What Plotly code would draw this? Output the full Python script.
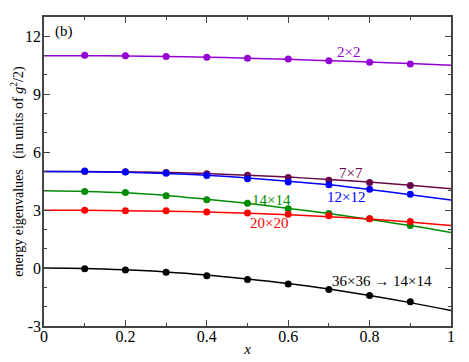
import plotly.graph_objects as go

# ---- data ----
x_line = [0.0, 0.1, 0.2, 0.3, 0.4, 0.5, 0.6, 0.7, 0.8, 0.9, 1.0]
x_pts = [0.1, 0.2, 0.3, 0.4, 0.5, 0.6, 0.7, 0.8, 0.9]

line_2x2 = [11.0, 11.0, 10.98, 10.95, 10.92, 10.87, 10.81, 10.74, 10.67, 10.59, 10.5]
pts_2x2 = [11.02, 10.99, 10.95, 10.92, 10.87, 10.82, 10.73, 10.66, 10.57]

line_7x7 = [5.0, 5.0, 4.98, 4.95, 4.89, 4.81, 4.71, 4.59, 4.45, 4.29, 4.11]
pts_7x7 = [5.0, 4.99, 4.95, 4.88, 4.81, 4.69, 4.55, 4.43, 4.27]

line_12x12 = [5.0, 4.99, 4.96, 4.9, 4.8, 4.66, 4.5, 4.31, 4.07, 3.8, 3.52]
pts_12x12 = [5.02, 4.98, 4.91, 4.79, 4.62, 4.46, 4.31, 4.08, 3.82]

line_14x14 = [4.0, 3.97, 3.9, 3.76, 3.56, 3.35, 3.09, 2.82, 2.52, 2.2, 1.84]
pts_14x14 = [3.97, 3.91, 3.75, 3.54, 3.35, 3.07, 2.83, 2.55, 2.20]

line_20x20 = [3.0, 2.99, 2.97, 2.94, 2.9, 2.84, 2.76, 2.66, 2.54, 2.39, 2.2]
pts_20x20 = [3.0, 2.97, 2.97, 2.90, 2.85, 2.78, 2.71, 2.55, 2.41]

line_36x36 = [0.0, -0.02, -0.09, -0.2, -0.36, -0.56, -0.8, -1.09, -1.42, -1.79, -2.2]
pts_36x36 = [-0.03, -0.10, -0.22, -0.40, -0.59, -0.83, -1.11, -1.42, -1.74]

x_tickvals = [0, 0.2, 0.4, 0.6, 0.8, 1.0]
x_ticktext = ["0", "0.2", "0.4", "0.6", "0.8", "1"]
y_tickvals = [-3, 0, 3, 6, 9, 12]
y_ticktext = ["-3", "0", "3", "6", "9", "12"]

series = [
    ("2×2", line_2x2, pts_2x2, "#9400D3", 0.747, 11.2),
    ("7×7", line_7x7, pts_7x7, "#670748", 0.754, 4.93),
    ("12×12", line_12x12, pts_12x12, "#0000FF", 0.742, 3.68),
    ("14×14", line_14x14, pts_14x14, "#008B00", 0.558, 3.5),
    ("20×20", line_20x20, pts_20x20, "#FF0000", 0.554, 2.33),
    ("36×36 → 14×14", line_36x36, pts_36x36, "#000000", 0.83, -0.66),
]

FONT = "Times New Roman, Liberation Serif, DejaVu Serif, serif"
fig = go.Figure()
for name, ln, pts, col, lx, ly in series:
    fig.add_trace(go.Scatter(x=x_line, y=ln, mode="lines",
                             line=dict(color=col, width=1.5, shape="spline"),
                             showlegend=False, hoverinfo="skip"))
    fig.add_trace(go.Scatter(x=x_pts, y=pts, mode="markers",
                             marker=dict(color=col, size=7),
                             showlegend=False, name=name))
    fig.add_annotation(x=lx, y=ly, text=name, showarrow=False,
                       font=dict(family=FONT, size=15, color=col))

fig.add_annotation(x=0.048, y=12.24, text="(b)", showarrow=False,
                   font=dict(family=FONT, size=15, color="black"))

axis_common = dict(showgrid=False, zeroline=False, showline=True, linecolor="#444",
                   linewidth=1.5, mirror="ticks", ticks="inside", ticklen=6,
                   tickcolor="#444", tickwidth=1.2, automargin=False,
                   tickfont=dict(family=FONT, size=16, color="black"))

# page body has an 8px margin, so the figure is 8px smaller than the window
fig.update_layout(
    width=461, height=354,
    margin=dict(l=36, r=18, t=9, b=36),
    paper_bgcolor="white", plot_bgcolor="white",
    font=dict(family=FONT, size=15, color="black"),
    xaxis=dict(range=[0, 1], tickvals=x_tickvals, ticktext=x_ticktext,
               ticklabelstandoff=-5,
               minor=dict(dtick=0.1, ticks="inside", ticklen=3, tickcolor="#444", tickwidth=1.2),
               title=dict(text="<i>x</i>", standoff=0, font=dict(family=FONT, size=15)),
               **axis_common),
    yaxis=dict(range=[-3, 13], tickvals=y_tickvals, ticktext=y_ticktext,
               ticklabelstandoff=-2,
               minor=dict(dtick=1, tick0=0, ticks="inside", ticklen=3, tickcolor="#444", tickwidth=1.2),
               title=dict(text="energy eigenvalues&nbsp;&nbsp;&nbsp;(in units of <i>g</i><sup>2</sup>/2)",
                          standoff=0, font=dict(family=FONT, size=14)),
               **axis_common),
)

fig.write_html("out.html")
